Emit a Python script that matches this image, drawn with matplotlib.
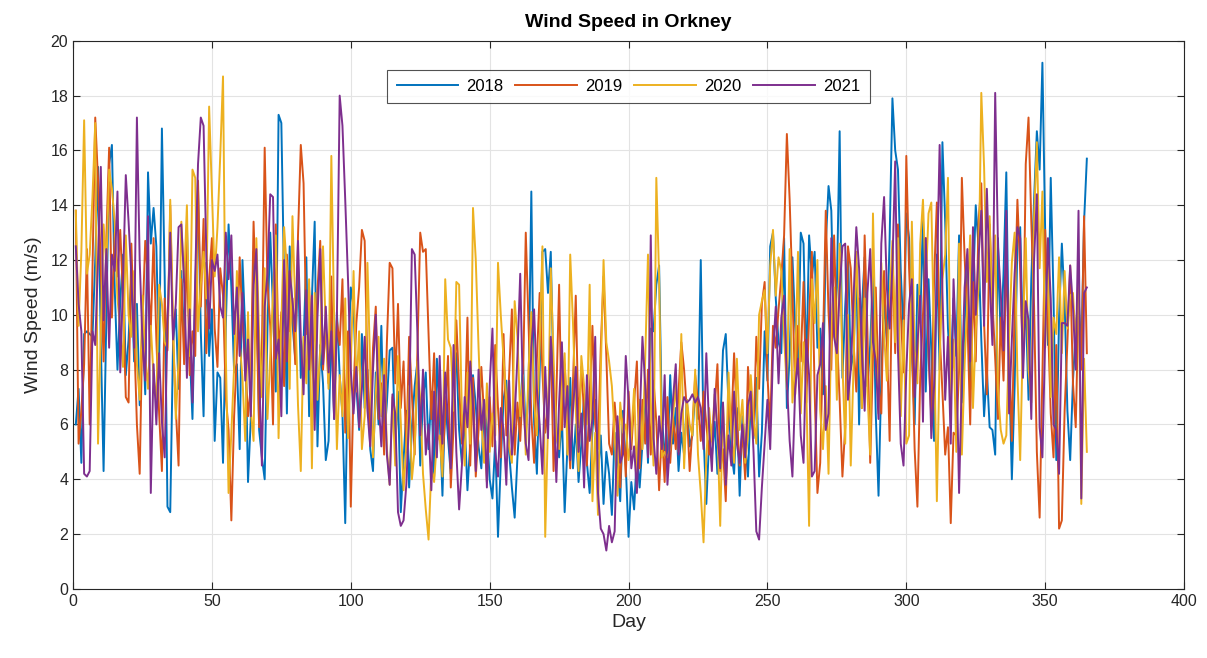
import numpy as np
import matplotlib
matplotlib.use("Agg")
import matplotlib.pyplot as plt

# daily mean wind speed (m/s)
ws_2018 = [
    6.0, 7.3, 4.6, 9.3, 9.4, 9.3, 9.2, 12.0, 15.4, 9.0,
    4.3, 9.8, 15.5, 16.2, 11.0, 8.0, 10.5, 12.2, 7.8, 9.1,
    11.5, 8.3, 10.4, 6.7, 9.6, 7.1, 15.2, 12.6, 13.9, 12.5,
    8.1, 16.8, 11.4, 3.0, 2.8, 8.9, 10.2, 7.3, 11.6, 9.0,
    13.3, 8.7, 6.2, 10.8, 14.6, 9.4, 6.3, 11.9, 8.5, 10.2,
    5.4, 7.9, 7.7, 4.6, 9.6, 13.3, 11.0, 7.9, 8.2, 5.1,
    12.0, 9.4, 3.9, 6.2, 12.3, 11.6, 5.8, 4.8, 4.0, 9.5,
    13.0, 10.2, 7.2, 17.3, 17.0, 11.2, 6.4, 12.5, 9.7, 8.4,
    11.9, 7.7, 9.0, 12.1, 6.3, 10.6, 13.4, 5.2, 8.9, 7.5,
    4.7, 5.4, 9.8, 6.2, 10.1, 7.8, 6.4, 2.4, 8.2, 11.0,
    10.3, 7.4, 5.8, 9.3, 6.6, 8.0, 5.1, 4.3, 7.9, 6.0,
    9.6, 5.4, 6.8, 8.7, 8.8, 5.2, 7.2, 2.8, 4.7, 6.5,
    3.7, 5.9, 7.4, 8.3, 4.5, 6.9, 7.9, 5.1, 7.2, 4.1,
    8.4, 6.3, 3.4, 7.0, 5.5, 4.2, 7.6, 8.6, 5.8, 4.6,
    6.1, 3.6, 5.3, 7.8, 6.7, 5.2, 4.4, 6.8, 5.9, 4.0,
    3.3, 5.4, 1.9, 4.6, 6.9, 7.6, 5.0, 3.7, 2.6, 4.8,
    6.4, 8.3, 5.6, 7.2, 14.5, 6.1, 4.2, 7.9, 12.3, 12.4,
    10.8, 12.3, 7.5, 5.9, 4.8, 6.3, 2.8, 5.2, 7.7, 4.4,
    6.0, 3.9, 5.3, 7.1, 4.6, 3.5, 5.8, 6.9, 4.2, 5.6,
    3.1, 5.0, 4.2, 2.7, 5.7, 4.4, 3.2, 6.5, 4.5, 1.9,
    3.9, 2.9, 4.9, 3.7, 5.3, 7.3, 4.6, 9.5, 9.4, 11.1,
    11.8, 6.2, 5.0, 4.6, 7.8, 5.3, 6.6, 4.3, 5.7, 4.9,
    6.9, 5.2, 5.6, 7.3, 6.2, 12.0, 5.6, 3.1, 5.4, 4.8,
    6.1, 4.2, 5.8, 8.7, 9.3, 6.7, 5.0, 4.2, 6.6, 3.4,
    6.3, 5.3, 4.1, 6.9, 5.5, 7.7, 4.1, 5.7, 9.4, 7.6,
    12.5, 13.0, 10.6, 9.0, 8.6, 12.8, 6.6, 8.5, 12.1, 9.6,
    8.2, 13.0, 12.6, 7.9, 12.9, 11.4, 12.3, 8.8, 9.5, 7.1,
    12.6, 14.7, 13.8, 9.4, 11.0, 16.7, 7.7, 10.3, 12.4, 8.0,
    8.6, 11.9, 6.0, 10.2, 12.1, 7.4, 8.9, 11.5, 6.4, 3.4,
    7.7, 10.6, 9.0, 12.8, 17.9, 16.0, 15.3, 11.6, 9.3, 13.7,
    12.8, 8.8, 6.0, 11.1, 9.7, 13.6, 7.2, 11.3, 8.7, 5.4,
    12.2, 8.0, 16.3, 13.4, 9.5, 7.8, 10.6, 8.5, 12.9, 6.8,
    9.7, 11.7, 7.3, 10.8, 14.0, 12.5, 9.1, 6.3, 8.0, 5.9,
    5.8, 4.9, 12.8, 9.0, 11.5, 15.2, 8.1, 4.0, 7.4, 12.6,
    13.2, 8.8, 10.4, 6.9, 11.3, 14.2, 16.7, 15.3, 19.2, 13.0,
    8.9, 15.0, 10.6, 4.7, 9.9, 12.6, 10.5, 6.5, 4.7, 7.6,
    9.4, 10.7, 8.6, 13.4, 15.7,
]

ws_2019 = [
    13.8, 5.3, 6.5, 8.2, 12.4, 6.0, 11.5, 17.2, 14.9, 11.7,
    8.3, 12.8, 16.1, 9.9, 13.0, 11.4, 13.1, 10.6, 7.0, 6.8,
    12.6, 9.3, 6.0, 4.2, 9.7, 12.7, 11.3, 9.5, 12.8, 9.1,
    6.4, 4.3, 10.6, 8.7, 14.0, 9.2, 6.6, 4.5, 11.3, 8.2,
    12.6, 7.8, 9.4, 8.5, 14.9, 10.3, 13.5, 8.6, 11.3, 12.8,
    9.5, 8.1, 11.7, 10.7, 7.0, 5.8, 2.5, 6.3, 8.6, 12.1,
    9.8, 8.2, 6.3, 7.4, 13.4, 10.2, 5.9, 8.8, 16.1, 11.2,
    9.6, 6.0, 13.3, 8.6, 10.1, 7.4, 12.2, 9.4, 10.6, 8.2,
    12.9, 16.2, 14.8, 9.3, 11.0, 8.5, 6.6, 10.9, 12.7, 8.0,
    9.6, 7.5, 11.4, 6.3, 9.8, 8.9, 11.3, 5.7, 9.4, 3.0,
    7.3, 9.7, 11.0, 13.1, 12.7, 8.0, 5.6, 8.8, 10.3, 6.2,
    7.5, 4.9, 9.0, 11.9, 11.7, 7.5, 10.4, 6.6, 8.3, 5.0,
    9.2, 7.1, 4.9, 8.7, 13.0, 12.3, 12.4, 9.3, 6.2, 8.6,
    5.1, 7.3, 4.6, 6.3, 8.5, 3.7, 5.9, 9.8, 7.4, 5.3,
    6.0, 9.9, 4.5, 7.7, 4.1, 5.8, 8.1, 6.3, 3.9, 7.0,
    5.2, 8.9, 6.6, 4.8, 9.3, 5.6, 7.8, 10.2, 4.9, 6.8,
    5.4, 7.6, 13.0, 9.7, 6.3, 4.6, 8.4, 10.8, 7.9, 5.7,
    6.6, 9.1, 4.3, 7.0, 11.1, 5.8, 8.2, 6.3, 4.4, 7.5,
    10.7, 5.9, 8.1, 6.4, 4.5, 7.1, 9.6, 6.0, 5.1, 8.8,
    11.4, 8.5, 5.3, 4.9, 6.8, 5.5, 3.7, 6.2, 4.1, 7.2,
    5.1, 6.8, 8.3, 4.4, 6.9, 5.3, 8.0, 4.9, 7.6, 6.1,
    3.6, 5.8, 3.9, 7.0, 4.6, 6.3, 5.1, 7.2, 9.0, 8.0,
    6.5, 4.3, 5.9, 7.8, 6.8, 5.4, 7.2, 6.0, 4.9, 5.7,
    6.6, 8.2, 4.3, 5.1, 3.2, 7.0, 5.9, 8.6, 6.2, 4.5,
    5.7, 4.0, 8.1, 6.4, 5.6, 9.2, 7.3, 10.4, 11.2, 7.8,
    5.9, 9.6, 8.8, 10.2, 11.4, 12.9, 16.6, 14.2, 10.9, 7.1,
    9.6, 8.3, 11.2, 6.8, 9.9, 12.3, 7.2, 3.5, 4.6, 8.9,
    13.8, 10.1, 8.0, 12.9, 9.3, 6.9, 4.1, 5.9, 12.5, 11.7,
    9.0, 7.2, 10.6, 6.6, 12.9, 9.4, 4.6, 8.5, 11.0, 7.4,
    6.4, 11.6, 9.1, 5.4, 12.3, 8.6, 13.3, 10.1, 7.9, 15.8,
    11.7, 9.0, 5.1, 3.0, 7.7, 10.0, 12.8, 8.5, 6.3, 11.3,
    14.1, 9.3, 7.2, 4.9, 5.9, 2.4, 5.7, 5.6, 8.0, 15.0,
    12.1, 9.8, 6.0, 11.2, 8.3, 13.4, 14.8, 9.7, 7.1, 13.3,
    10.5, 8.4, 6.2, 9.9, 7.6, 12.0, 8.8, 5.4, 10.3, 14.2,
    11.6, 8.1, 15.5, 17.2, 13.4, 10.3, 5.0, 2.6, 7.9, 13.1,
    9.7, 6.4, 4.8, 8.9, 2.2, 2.5, 6.5, 9.0, 11.8, 7.5,
    5.9, 10.5, 8.0, 13.6, 8.6,
]

ws_2020 = [
    13.8, 9.6, 12.3, 17.1, 11.5, 12.2, 14.3, 17.0, 5.3, 9.4,
    13.3, 11.8, 15.3, 14.6, 13.4, 10.6, 9.5, 8.1, 12.9, 10.0,
    9.2, 11.6, 8.2, 6.9, 10.7, 8.5, 7.3, 9.6, 7.7, 6.9,
    11.1, 10.4, 9.0, 8.8, 14.2, 9.7, 6.2, 8.3, 13.4, 11.2,
    14.0, 8.5, 15.3, 15.0, 9.4, 11.1, 12.3, 10.6, 17.6, 14.5,
    11.4, 13.2, 15.8, 18.7, 8.6, 3.5, 5.7, 8.1, 11.6, 9.0,
    7.7, 5.4, 10.1, 6.5, 5.4, 12.8, 9.3, 7.0, 11.7, 6.2,
    8.5, 10.8, 12.9, 5.5, 9.7, 13.2, 11.6, 7.3, 13.6, 10.4,
    6.7, 4.3, 9.2, 7.5, 11.3, 4.4, 10.8, 6.9, 8.8, 12.5,
    9.5, 7.3, 15.8, 9.9, 5.1, 7.8, 6.3, 10.6, 5.5, 8.2,
    11.6, 7.2, 9.4, 5.1, 6.3, 11.9, 8.0, 4.8, 7.1, 9.2,
    6.3, 8.4, 5.1, 3.8, 7.0, 4.5, 8.5, 6.1, 3.6, 5.2,
    7.4, 4.0, 5.1, 8.3, 6.9, 4.2, 2.9, 1.8, 4.4, 3.9,
    5.4, 5.6, 4.1, 11.3, 9.1, 8.8, 6.5, 11.2, 11.1, 6.4,
    4.5, 7.9, 5.3, 13.9, 12.0, 8.8, 6.1, 4.6, 7.5, 5.0,
    6.4, 5.6, 11.9, 10.0, 8.4, 6.9, 5.2, 4.6, 10.5, 9.2,
    6.3, 7.8, 4.9, 8.0, 10.1, 6.8, 5.6, 8.9, 12.5, 1.9,
    6.0, 11.7, 8.4, 5.5, 5.1, 7.3, 8.6, 4.9, 12.2, 9.7,
    6.5, 4.3, 8.5, 7.4, 6.0, 11.1, 3.2, 5.7, 2.7, 7.9,
    12.0, 9.0, 8.3, 7.4, 5.6, 3.4, 6.8, 5.7, 6.0, 4.7,
    5.6, 7.3, 4.1, 6.9, 5.1, 8.4, 12.2, 6.8, 4.5, 15.0,
    11.4, 4.8, 5.0, 4.8, 5.1, 6.3, 7.5, 5.0, 9.3, 4.4,
    6.9, 6.0, 5.6, 8.0, 4.9, 3.5, 1.7, 4.8, 6.6, 5.4,
    7.1, 5.9, 2.3, 6.8, 4.1, 7.9, 5.6, 4.6, 8.4, 5.8,
    6.9, 4.6, 5.6, 7.8, 6.2, 5.3, 10.0, 10.5, 10.9, 8.6,
    11.8, 13.1, 10.7, 12.1, 11.6, 9.2, 7.3, 12.4, 6.8, 8.1,
    12.3, 6.4, 9.0, 7.3, 2.3, 11.3, 9.7, 12.0, 6.5, 5.1,
    7.4, 4.2, 9.7, 11.0, 6.9, 12.6, 8.2, 5.3, 10.0, 4.5,
    8.1, 12.3, 9.4, 6.6, 10.6, 7.2, 4.9, 13.7, 8.6, 6.4,
    11.9, 9.3, 7.6, 10.7, 12.7, 9.0, 12.8, 6.3, 9.8, 5.3,
    5.6, 13.4, 8.7, 7.5, 12.6, 14.2, 11.1, 13.7, 14.1, 9.0,
    3.2, 8.4, 11.3, 12.2, 15.0, 6.9, 9.1, 5.0, 12.6, 4.9,
    8.2, 10.6, 12.9, 6.6, 9.4, 11.0, 18.1, 15.4, 11.2, 13.6,
    9.8, 12.9, 7.3, 5.8, 5.3, 5.6, 9.1, 11.9, 13.0, 7.8,
    4.7, 9.3, 12.8, 8.0, 6.8, 13.5, 16.3, 11.7, 14.5, 8.8,
    12.2, 7.0, 9.9, 9.3, 12.1, 8.6, 11.6, 9.5, 10.7, 10.8,
    9.0, 11.5, 3.1, 8.4, 5.0,
]

ws_2021 = [
    12.5, 10.4, 9.4, 4.2, 4.1, 4.3, 9.4, 8.9, 12.0, 15.4,
    9.8, 12.4, 8.8, 12.2, 11.6, 14.5, 7.9, 11.2, 15.1, 13.4,
    11.4, 8.8, 17.2, 12.0, 9.0, 7.6, 13.6, 3.5, 8.2, 6.0,
    8.6, 6.1, 4.8, 9.6, 13.0, 9.1, 10.4, 13.2, 13.3, 11.2,
    7.7, 10.2, 6.8, 11.4, 15.5, 17.2, 16.9, 12.2, 9.5, 12.0,
    11.6, 12.2, 10.3, 9.9, 13.0, 11.3, 12.9, 9.3, 11.0, 8.5,
    10.8, 7.6, 9.1, 6.3, 11.1, 12.4, 7.9, 4.5, 10.3, 11.5,
    14.4, 14.3, 8.4, 9.1, 6.3, 12.0, 8.3, 11.6, 10.5, 9.4,
    12.7, 9.2, 7.1, 10.9, 8.0, 10.7, 5.8, 9.9, 12.4, 8.2,
    10.3, 7.9, 9.4, 6.2, 9.9, 18.0, 16.9, 14.2, 11.3, 8.0,
    6.4, 8.1, 5.9, 7.3, 9.2, 6.5, 5.2, 8.0, 10.0, 6.9,
    5.2, 7.8, 4.9, 3.8, 7.1, 6.4, 2.8, 2.3, 2.5, 3.8,
    6.3, 12.4, 12.2, 9.3, 5.6, 8.0, 4.9, 6.0, 3.6, 7.2,
    4.8, 8.5, 5.3, 7.9, 6.1, 4.4, 8.9, 5.0, 2.9, 4.5,
    7.0, 5.9, 8.3, 6.7, 4.3, 8.0, 5.8, 6.9, 3.7, 7.4,
    9.5, 5.0, 4.1, 6.6, 5.8, 3.8, 7.6, 4.9, 6.2, 8.5,
    11.5, 7.0, 5.3, 4.7, 8.8, 10.2, 7.3, 6.0, 4.2, 8.1,
    5.5, 9.2, 7.1, 3.9, 6.8, 9.0, 5.9, 7.4, 4.7, 6.5,
    8.1, 5.0, 6.4, 3.7, 7.8, 5.4, 6.2, 9.2, 3.5, 2.2,
    2.0, 1.4, 2.3, 1.7, 2.1, 6.3, 4.6, 4.9, 8.5, 6.9,
    4.4, 5.2, 3.5, 6.1, 9.2, 7.4, 4.8, 12.9, 5.5, 4.2,
    6.3, 5.1, 7.8, 3.8, 5.5, 6.9, 8.2, 4.9, 6.4, 7.0,
    6.8, 6.9, 7.1, 6.8, 7.0, 6.6, 5.1, 8.6, 5.9, 4.3,
    7.3, 5.7, 4.4, 6.8, 3.8, 5.6, 4.5, 7.2, 5.3, 4.6,
    6.0, 4.8, 6.7, 7.2, 5.0, 2.1, 1.8, 3.7, 5.3, 6.9,
    5.1, 8.6, 10.3, 7.5, 9.9, 10.7, 7.6, 5.4, 4.1, 7.3,
    8.4, 5.6, 4.6, 9.1, 7.8, 4.1, 4.3, 7.8, 8.2, 9.7,
    5.8, 6.4, 12.8, 9.2, 8.6, 10.9, 12.5, 12.6, 6.9, 8.0,
    10.6, 13.2, 11.7, 8.8, 6.5, 10.8, 12.4, 9.0, 8.3, 6.2,
    12.6, 14.3, 11.0, 9.5, 11.8, 15.6, 8.7, 5.3, 4.5, 7.9,
    10.4, 11.3, 7.0, 8.9, 10.7, 6.1, 12.8, 9.4, 5.5, 7.4,
    11.4, 16.2, 10.8, 6.9, 9.2, 5.3, 11.3, 8.6, 3.5, 7.7,
    11.0, 12.4, 8.3, 13.2, 10.0, 12.1, 13.8, 9.6, 14.6, 11.3,
    8.9, 18.1, 12.5, 10.8, 8.7, 13.8, 6.4, 9.1, 11.5, 13.2,
    12.8, 7.7, 10.5, 9.8, 6.2, 12.0, 14.4, 5.9, 4.8, 9.2,
    12.8, 10.6, 6.0, 5.8, 4.2, 9.7, 9.7, 9.6, 11.8, 10.3,
    8.0, 13.8, 3.3, 10.8, 11.0,
]

years = ["2018", "2019", "2020", "2021"]
colors = ["#0072BD", "#D95319", "#EDB120", "#7E2F8E"]
series = [ws_2018, ws_2019, ws_2020, ws_2021]

plt.rcParams["font.family"] = ["Liberation Sans", "DejaVu Sans"]

fig = plt.figure(figsize=(12.07, 6.58), dpi=100)
ax = fig.add_axes([0.0605, 0.105, 0.9205, 0.833])

for yr, col, vals in zip(years, colors, series):
    days = np.arange(1, len(vals) + 1)
    ax.plot(days, vals, color=col, lw=1.4, label=yr)

ax.set_xlim(0, 400)
ax.set_ylim(0, 20)
ax.set_xticks(np.arange(0, 401, 50))
ax.set_yticks(np.arange(0, 21, 2))
ax.grid(True, color="#e3e3e3", lw=0.8)
ax.set_axisbelow(True)
ax.tick_params(direction="in", top=True, right=True, length=5, width=0.8,
               labelsize=11.5, colors="#262626")
for s in ax.spines.values():
    s.set_color("#262626")
    s.set_linewidth(0.8)

ax.set_xlabel("Day", fontsize=14, color="#262626", labelpad=4)
ax.set_ylabel("Wind Speed (m/s)", fontsize=14, color="#262626", labelpad=6)
ax.set_title("Wind Speed in Orkney", fontsize=14, fontweight="bold", pad=10)

leg = ax.legend(loc="upper center", bbox_to_anchor=(0.5, 0.962), ncol=4,
                fontsize=12, frameon=True, fancybox=False, handlelength=3.7,
                columnspacing=0.7, borderpad=0.55, handletextpad=0.5)
leg.get_frame().set_edgecolor("#262626")
leg.get_frame().set_linewidth(0.8)

fig.savefig("out.png", dpi=100)
